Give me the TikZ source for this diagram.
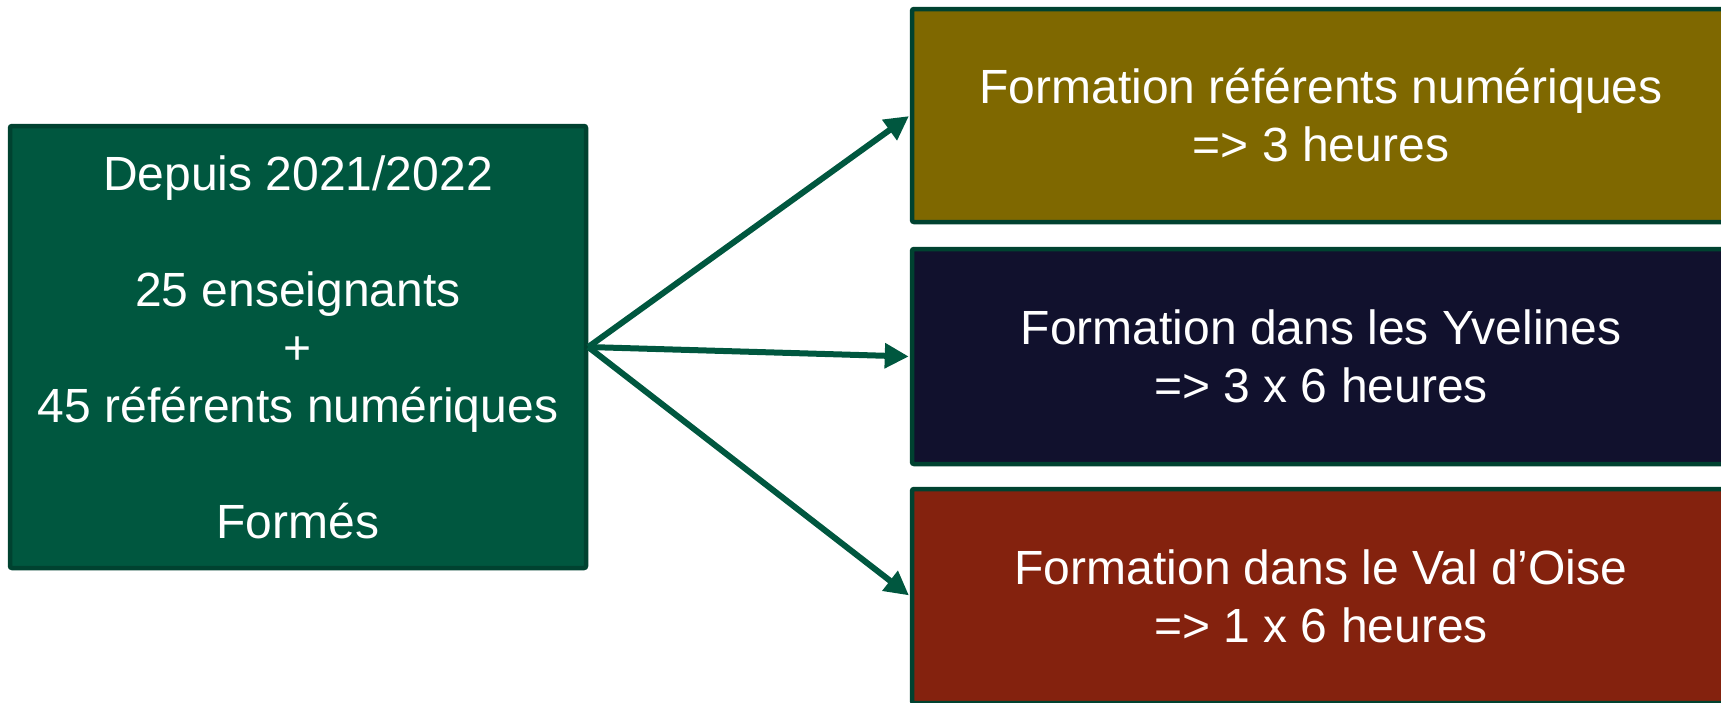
\documentclass[tikz,border=0pt]{standalone}
\usepackage{fontspec}
\setmainfont{Liberation Sans}
\usetikzlibrary{arrows.meta}
\definecolor{bgreen}{RGB}{0,87,63}
\definecolor{bborder}{RGB}{0,66,48}
\definecolor{olivebox}{RGB}{127,104,0}
\definecolor{navybox}{RGB}{17,17,45}
\definecolor{redbox}{RGB}{132,34,14}
\begin{document}
\begin{tikzpicture}[x=1pt,y=-1pt,
  box/.style={draw=bborder, line width=4.5pt, rounded corners=2pt, text=white, align=center,
    font=\fontsize{48}{58}\selectfont, inner sep=0pt},
  conn/.style={draw=bgreen, line width=6pt, -{Triangle[length=24pt,width=24pt]}, shorten >=1pt}]
\useasboundingbox (0,0) rectangle (1721,702);
\clip (0,0) rectangle (1721,702);
\node[box, fill=bgreen, minimum width=576pt, minimum height=442pt] (src) at (298,347)
  {Depuis 2021/2022\\[58pt]25 enseignants\\+\\45 référents numériques\\[58pt]Formés};
\node[box, fill=olivebox, minimum width=818pt, minimum height=213pt] (a) at (1321,115.5)
  {Formation référents numériques\\=> 3 heures};
\node[box, fill=navybox, minimum width=818pt, minimum height=215pt] (b) at (1321,356.5)
  {Formation dans les Yvelines\\=> 3 x 6 heures};
\node[box, fill=redbox, minimum width=818pt, minimum height=214pt] (c) at (1321,596)
  {Formation dans le Val d’Oise\\=> 1 x 6 heures};
\draw[conn] (src.east) -- (a.west);
\draw[conn] (src.east) -- (b.west);
\draw[conn] (src.east) -- (c.west);
\end{tikzpicture}
\end{document}
